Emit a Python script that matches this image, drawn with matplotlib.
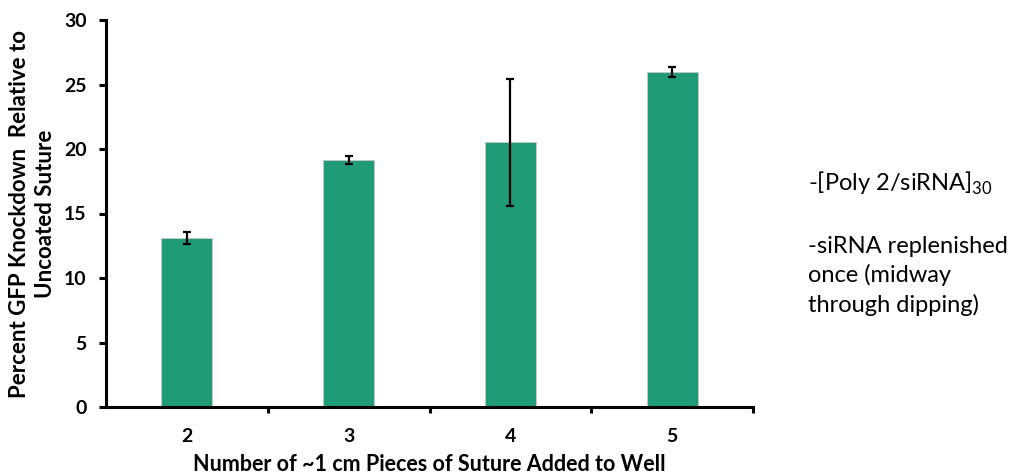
import matplotlib.pyplot as plt

pieces = ["2", "3", "4", "5"]
knockdown = [13.12, 19.15, 20.52, 25.95]
err = [0.45, 0.28, 4.93, 0.38]
yticks = [0, 5, 10, 15, 20, 25, 30]

plt.rcParams['font.family'] = ['Lato', 'DejaVu Sans']
plt.rcParams['mathtext.fontset'] = 'custom'
plt.rcParams['mathtext.rm'] = 'Lato'

fig = plt.figure(figsize=(10.14, 4.76), dpi=100)
ax = fig.add_axes([106 / 1014, 69 / 476, 647 / 1014, 387 / 476])

x = list(range(len(pieces)))
ax.bar(x, knockdown, width=0.315, color="#1f9b78", edgecolor="#c8c8c8", linewidth=0.6,
       yerr=err, error_kw=dict(ecolor="black", elinewidth=1.6, capsize=2.6, capthick=1.6))

ax.set_xlim(-0.5, 3.5)
ax.set_ylim(0, 30)
ax.set_yticks(yticks)
ax.set_xticks(x)
ax.set_xticklabels(pieces)
ax.set_xticks([0.5, 1.5, 2.5, 3.5], minor=True)
ax.tick_params(axis="x", which="major", length=0, pad=15, labelsize=14)
ax.tick_params(axis="x", which="minor", length=4, width=2.2, direction="out")
ax.tick_params(axis="y", length=5, width=2.2, direction="out", pad=9, labelsize=14)
for lab in ax.get_xticklabels() + ax.get_yticklabels():
    lab.set_fontweight("bold")

for s in ["top", "right"]:
    ax.spines[s].set_visible(False)
for s in ["left", "bottom"]:
    ax.spines[s].set_linewidth(2.2)

ax.set_xlabel("Number of ~1 cm Pieces of Suture Added to Well", fontsize=15.5,
              fontweight="bold", labelpad=6.5)
ax.set_ylabel("Percent GFP Knockdown  Relative to\nUncoated Suture", fontsize=16,
              fontweight="bold", labelpad=6, linespacing=1.25)

fig.text(808 / 1014, 1 - 183 / 476, r"-[Poly 2/siRNA]$_{\mathrm{30}}$", fontsize=17, va="center")
fig.text(808 / 1014, 1 - 276 / 476, "-siRNA replenished\nonce (midway\nthrough dipping)",
         fontsize=17, va="center", linespacing=1.42)

fig.savefig("out.png", dpi=100)
